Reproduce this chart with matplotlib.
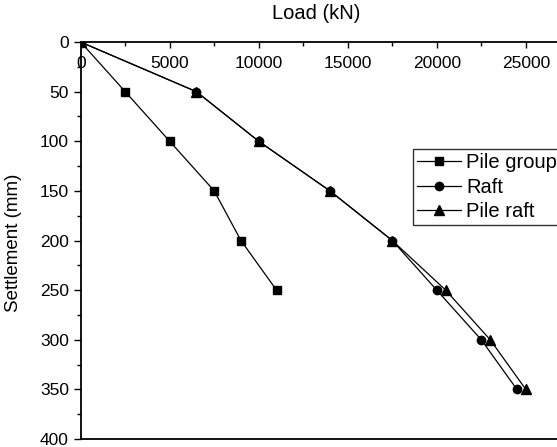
import matplotlib
matplotlib.use("Agg")
import matplotlib.pyplot as plt
from matplotlib.ticker import MultipleLocator

plt.rcParams["font.family"] = ["Liberation Sans", "DejaVu Sans"]

# load (kN) vs settlement (mm)
pile_group_load = [0, 2500, 5000, 7500, 9000, 11000]
pile_group_settle = [0, 50, 100, 150, 200, 250]

raft_load = [0, 6500, 10000, 14000, 17500, 20000, 22500, 24500]
raft_settle = [0, 50, 100, 150, 200, 250, 300, 350]

pile_raft_load = [0, 6500, 10000, 14000, 17500, 20500, 23000, 25000]
pile_raft_settle = [0, 50, 100, 150, 200, 250, 300, 350]

fig = plt.figure(figsize=(5.57, 4.47), dpi=100)
# axes run a little past the right edge, like the cropped original
ax = fig.add_axes([0.1449, 0.0179, 0.863, 0.888])

ax.plot(pile_group_load, pile_group_settle, color="black", lw=0.9,
        marker="s", ms=6, label="Pile group")
ax.plot(raft_load, raft_settle, color="black", lw=0.9,
        marker="o", ms=6, label="Raft")
ax.plot(pile_raft_load, pile_raft_settle, color="black", lw=0.9,
        marker="^", ms=7, label="Pile raft")

ax.set_xlim(0, 27000)
ax.set_ylim(400, 0)

ax.xaxis.tick_top()
ax.xaxis.set_major_locator(MultipleLocator(5000))
ax.xaxis.set_minor_locator(MultipleLocator(2500))
ax.yaxis.set_major_locator(MultipleLocator(50))
ax.yaxis.set_minor_locator(MultipleLocator(25))
ax.tick_params(axis="x", which="both", direction="in", top=True, bottom=False,
               labeltop=True, labelbottom=False, pad=-21, labelsize=12.5)
ax.tick_params(axis="x", which="major", length=4, width=1)
ax.tick_params(axis="x", which="minor", length=3, width=1)
ax.tick_params(axis="y", which="both", direction="out", labelsize=12.5, width=1)
ax.tick_params(axis="y", which="major", length=5)
ax.tick_params(axis="y", which="minor", length=3)
for s in ax.spines.values():
    s.set_linewidth(1.3)

ax.set_xlabel("Load (kN)", fontsize=14.5)
ax.xaxis.set_label_position("top")
ax.xaxis.set_label_coords(0.567, 0.9575, transform=fig.transFigure)
ax.set_ylabel("Settlement (mm)", fontsize=13.5)
ax.yaxis.set_label_coords(0.0395, 0.4575, transform=fig.transFigure)

leg = ax.legend(loc="upper left", bbox_to_anchor=(413 / 557, 1 - 149 / 447),
                bbox_transform=fig.transFigure, fontsize=14.5, frameon=True,
                fancybox=False, edgecolor="black", borderpad=0.2,
                borderaxespad=0, handlelength=2.2, handletextpad=0.25,
                labelspacing=0.28)
leg.get_frame().set_linewidth(1.0)

fig.savefig("out.png", dpi=100)
